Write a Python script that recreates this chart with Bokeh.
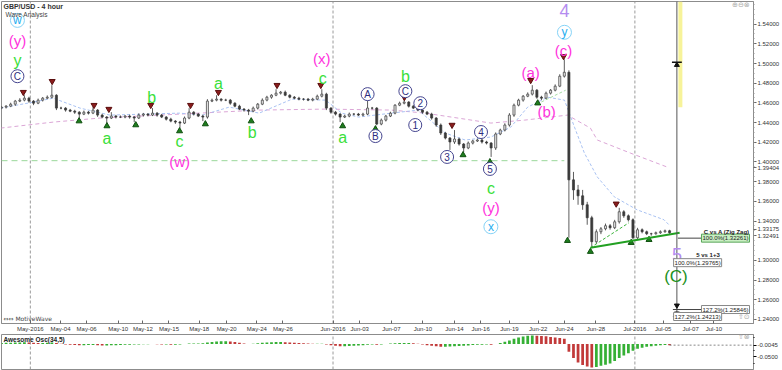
from bokeh.plotting import figure
from bokeh.models import (Label, FixedTicker, Range1d, NumeralTickFormatter,
                          CustomJSTickFormatter)
from bokeh.layouts import column
from bokeh.embed import file_html
from bokeh.resources import INLINE
from bokeh.core.properties import value

FONT = "Liberation Sans"

# ---------------- data (x = trading days since 1 May 2016) ----------------
bar_start = -2.1
bar_step = 1 / 3
first_open = 1.4547

closes = [
    1.4557, 1.4567, 1.4587, 1.4618, 1.4628, 1.4648, 1.4618, 1.4597, 1.4628, 1.4648,
    1.4658, 1.4678, 1.4547, 1.4547, 1.4527, 1.4516, 1.4506, 1.4486, 1.4506, 1.4496,
    1.4527, 1.4476, 1.4456, 1.4446, 1.4466, 1.4456, 1.4456, 1.4466, 1.4456, 1.4446,
    1.4476, 1.4486, 1.4476, 1.4496, 1.4476, 1.4456, 1.4435, 1.4415, 1.4405, 1.4395,
    1.4446, 1.4506, 1.4486, 1.4466, 1.4456, 1.4618, 1.4628, 1.4638, 1.4628, 1.4628,
    1.4597, 1.4567, 1.4537, 1.4527, 1.4516, 1.4547, 1.4587, 1.4628, 1.4658, 1.4678,
    1.4699, 1.4709, 1.4678, 1.4658, 1.4648, 1.4638, 1.4638, 1.4628, 1.4638, 1.4668,
    1.4689, 1.4547, 1.4506, 1.4486, 1.4456, 1.4466, 1.4486, 1.4486, 1.4476, 1.4486,
    1.4547, 1.4547, 1.4385, 1.4425, 1.4466, 1.4496, 1.4577, 1.4597, 1.4608, 1.4567,
    1.4547, 1.4527, 1.4506, 1.4486, 1.4446, 1.4375, 1.4294, 1.4243, 1.4203, 1.4233,
    1.4182, 1.4142, 1.4192, 1.4213, 1.4223, 1.4203, 1.4192, 1.4142, 1.4284, 1.4324,
    1.4375, 1.4476, 1.4577, 1.4628, 1.4668, 1.4689, 1.4729, 1.4658, 1.4648, 1.4699,
    1.4729, 1.4770, 1.4871, 1.4911, 1.3818, 1.3716, 1.3656, 1.3565, 1.3433, 1.3190,
    1.3291, 1.3321, 1.3352, 1.3332, 1.3392, 1.3494, 1.3453, 1.3413, 1.3230, 1.3311,
    1.3291, 1.3271, 1.3271, 1.3281, 1.3291, 1.3301, 1.3281]

wick_up_pips = [
    12, 10, 15, 12, 20, 30, 14, 10, 16, 12,
    18, 102, 10, 14, 10, 12, 14, 10, 16, 12,
    30, 10, 14, 10, 40, 12, 16, 10, 14, 10,
    18, 12, 10, 51, 10, 12, 10, 14, 10, 12,
    16, 41, 10, 12, 14, 20, 16, 40, 10, 14,
    12, 10, 14, 10, 12, 16, 12, 18, 14, 10,
    40, 12, 16, 10, 12, 14, 10, 12, 14, 16,
    50, 14, 10, 12, 10, 14, 16, 10, 12, 14,
    81, 12, 10, 16, 12, 14, 10, 16, 30, 10,
    12, 14, 10, 12, 14, 10, 16, 12, 10, 91,
    14, 10, 16, 12, 14, 10, 12, 10, 16, 14,
    18, 20, 16, 14, 12, 18, 51, 12, 14, 16,
    12, 18, 20, 132, 20, 81, 51, 60, 30, 20,
    24, 18, 22, 18, 20, 40, 16, 14, 14, 20,
    14, 12, 10, 12, 14, 12, 10]

wick_dn_pips = [
    10, 14, 10, 18, 10, 12, 16, 20, 10, 14,
    10, 12, 20, 12, 16, 10, 18, 40, 10, 14,
    10, 18, 12, 51, 10, 14, 10, 12, 16, 41,
    10, 14, 12, 10, 16, 10, 14, 12, 18, 51,
    10, 12, 14, 10, 41, 16, 10, 12, 14, 10,
    16, 12, 10, 16, 40, 10, 14, 10, 12, 16,
    10, 14, 10, 12, 10, 12, 14, 10, 12, 10,
    12, 20, 16, 14, 51, 10, 12, 14, 10, 12,
    10, 14, 12, 12, 14, 10, 12, 10, 12, 14,
    10, 12, 16, 10, 16, 18, 20, 14, 81, 20,
    16, 41, 12, 14, 10, 16, 14, 91, 20, 12,
    14, 16, 18, 12, 16, 10, 14, 16, 20, 10,
    14, 12, 10, 14, 588, 101, 91, 51, 71, 51,
    20, 24, 16, 20, 14, 18, 20, 18, 15, 12,
    16, 14, 20, 10, 12, 10, 12]

ao_values = [
    0.004, 0.005, 0.005, 0.006, 0.006, 0.007, 0.006, 0.005, 0.004, 0.004,
    0.005, 0.006, 0.004, 0.001, -0.002, -0.003, -0.004, -0.005, -0.005, -0.004,
    -0.004, -0.005, -0.006, -0.006, -0.005, -0.005, -0.004, -0.003, -0.003, -0.002,
    -0.002, -0.001, -0.001, 0.000, -0.001, -0.002, -0.002, -0.003, -0.003, -0.002,
    0.000, 0.002, 0.002, 0.002, 0.003, 0.006, 0.008, 0.010, 0.011, 0.011,
    0.010, 0.008, 0.005, 0.002, 0.000, 0.001, 0.003, 0.005, 0.006, 0.007,
    0.008, 0.008, 0.007, 0.006, 0.005, 0.004, 0.003, 0.002, 0.001, 0.001,
    0.001, -0.002, -0.005, -0.007, -0.009, -0.009, -0.008, -0.007, -0.006, -0.005,
    -0.003, -0.002, -0.003, -0.002, 0.000, 0.002, 0.003, 0.004, 0.004, 0.004,
    0.003, 0.001, -0.002, -0.005, -0.007, -0.009, -0.011, -0.011, -0.010, -0.009,
    -0.008, -0.007, -0.006, -0.004, -0.003, -0.003, -0.002, -0.003, 0.000, 0.004,
    0.009, 0.014, 0.020, 0.025, 0.029, 0.032, 0.033, 0.032, 0.031, 0.030,
    0.027, 0.025, 0.023, 0.020, -0.030, -0.055, -0.072, -0.082, -0.088, -0.092,
    -0.090, -0.085, -0.081, -0.076, -0.066, -0.055, -0.045, -0.036, -0.026, -0.019,
    -0.015, -0.011, -0.009, -0.007, -0.005, -0.004, -0.0045]

ma_fast_x = [-2.17, 0.22, 1.67, 3.62, 5.80, 10.87, 12.54, 14.49, 16.67, 19.06,
             21.52, 22.68, 23.91, 26.30, 28.26, 30.22, 31.67, 33.55, 35.0, 36.23,
             37.68, 38.91, 39.64, 40.36, 41.30, 42.54, 44.20, 46.16, 46.59]
ma_fast_y = [1.4547, 1.4608, 1.4648, 1.4547, 1.4476, 1.4496, 1.4476, 1.4557, 1.4496, 1.4638,
             1.4628, 1.4496, 1.4456, 1.4496, 1.4527, 1.4294, 1.4223, 1.4253, 1.4354, 1.4557,
             1.4658, 1.4628, 1.4354, 1.4091, 1.3848, 1.3646, 1.3514, 1.3413, 1.3352]
ma_slow_x = [-2.17, 1.67, 5.07, 12.32, 16.67, 21.52, 26.30, 28.77, 33.55, 36.01,
             39.13, 40.80, 41.30, 43.70, 46.38]
ma_slow_y = [1.4344, 1.4405, 1.4446, 1.4496, 1.4527, 1.4537, 1.4527, 1.4496, 1.4395, 1.4425,
             1.4476, 1.4344, 1.4223, 1.4091, 1.3949]

date_ticks = [0, 2.2, 4.1, 6.4, 8.2, 10.1, 12.3, 14.3, 16.5, 18.4, 22.05, 24.0,
              26.3, 28.6, 30.9, 32.8, 34.9, 37.0, 38.9, 41.2, 44.04, 46.1, 48.1, 49.8]
date_labels = ["May-2016", "May-04", "May-06", "May-10", "May-12", "May-15", "May-18",
               "May-20", "May-24", "May-26", "Jun-2016", "Jun-03", "Jun-07", "Jun-10",
               "Jun-14", "Jun-16", "Jun-19", "Jun-22", "Jun-24", "Jun-28", "Jul-2016",
               "Jul-05", "Jul-07", "Jul-10"]
month_lines = [0, 22.05, 44.04]
# price axis: round levels plus the three live values MotiveWave prints on the axis
price_ticks = [1.24, 1.26, 1.28, 1.30, 1.32491, 1.33175, 1.34, 1.36, 1.38, 1.39404,
               1.40, 1.42, 1.44, 1.46, 1.48, 1.50, 1.52, 1.54]
ao_ticks = [-0.05, -0.0045]

# wave labels
circ_blue_x = [-0.94, 33.55, 38.91]
circ_blue_y = [1.5438, 1.3342, 1.5317]
circ_blue_t = ["w", "x", "y"]
magenta_x = [-0.94, 10.87, 21.23, 33.55, 36.45, 37.61, 38.84]
magenta_y = [1.5235, 1.4000, 1.5053, 1.3534, 1.4911, 1.4516, 1.5134]
magenta_t = ["(y)", "(w)", "(x)", "(y)", "(a)", "(b)", "(c)"]
green_x = [-0.94, 8.84, 5.58, 10.87, 13.70, 16.16, 21.30, 22.75, 27.32, 33.55]
green_y = [1.5033, 1.4658, 1.4243, 1.4203, 1.4800, 1.4304, 1.4851, 1.4253, 1.4871, 1.3727]
green_t = ["y", "b", "a", "c", "a", "b", "c", "a", "b", "c"]
navy_x = [-0.94, 24.57, 25.14, 27.32, 28.41, 28.04, 30.36, 32.83, 33.48]
navy_y = [1.4871, 1.4689, 1.4263, 1.4719, 1.4597, 1.4375, 1.4051, 1.4304, 1.3929]
navy_t = ["C", "A", "B", "C", "2", "1", "3", "4", "5"]
lav_x = [38.91, 47.10]
lav_y = [1.5539, 1.3058]
lav_t = ["4", "5"]
dgreen_x = [47.03]
dgreen_y = [1.2835]
dgreen_t = ["(C)"]

top_mark_x = [-0.51, 1.59, 4.64, 5.72, 8.77, 11.67, 13.70, 17.97, 21.16, 27.25,
              30.72, 36.45, 38.84, 42.68]
top_mark_y = [1.4709, 1.4820, 1.4577, 1.4537, 1.4577, 1.4577, 1.4709, 1.4780, 1.4780, 1.4658,
              1.4375, 1.4830, 1.5073, 1.3575]
bot_mark_x = [3.55, 5.58, 7.68, 10.87, 12.75, 16.09, 22.75, 25.14, 31.52, 33.48,
              36.96, 39.13, 40.80, 43.77, 45.07]
bot_mark_y = [1.4415, 1.4365, 1.4375, 1.4314, 1.4385, 1.4415, 1.4365, 1.4334, 1.4071, 1.4000,
              1.4597, 1.3200, 1.3089, 1.3180, 1.3210]

support_x = [40.80, 47.30]
support_y = [1.3129, 1.3281]
inner_x = [40.80, 43.60]
inner_y = [1.3129, 1.3382]
channel_x = [36.90, 39.0]
channel_y = [1.4587, 1.4729]
level_1400 = 1.4013
level_1400_end = 38.9

proj_x = 47.10
proj_top = 1.5630
proj_bottom = 1.2430
target_zone = [47.21, 47.50, 1.4557, 1.5630]

fib_levels = [1.3226, 1.2977, 1.2501, 1.2430]
fib_line_start = [47.17, 47.10, 46.81, 46.81]
fib_line_end = [49.78, 47.75, 49.78, 47.75]
fib_texts = ["100.0%(1.32261)", "100.0%(1.29765)", "127.2%(1.25846)", "127.2%(1.24213)"]
fib_text_right = [52.39, 50.36, 52.39, 50.36]
fib_fill = ["#c9efc3", "#ffffff", "#ffffff", "#ffffff"]
fib_border = ["#5aa55a", "#888888", "#888888", "#888888"]
ao_last = -0.0045

# ---------------- derived candle geometry ----------------
n = len(closes)
xs = [bar_start + i * bar_step for i in range(n)]
opens = [first_open] + closes[:-1]
highs = [max(o, c) + w / 10000 for o, c, w in zip(opens, closes, wick_up_pips)]
lows = [min(o, c) - w / 10000 for o, c, w in zip(opens, closes, wick_dn_pips)]

X_RANGE = Range1d(-2.101, 52.681)

p = figure(width=782, height=334, x_range=X_RANGE, y_range=Range1d(1.2359, 1.5630),
           output_backend="svg", toolbar_location=None, y_axis_location="right",
           min_border_left=1, min_border_right=25, min_border_top=1, min_border_bottom=0)
p.xgrid.visible = False
p.ygrid.visible = False
p.outline_line_color = "#8c8c8c"
p.border_fill_color = "white"

yax = p.yaxis[0]
yax.ticker = FixedTicker(ticks=price_ticks,
                         minor_ticks=[1.24 + 0.005 * i for i in range(65)])
yax.formatter = NumeralTickFormatter(format="0.00000")
yax.major_label_text_font = FONT
yax.major_label_text_font_size = "6px"
yax.major_label_text_color = "#333333"
yax.major_tick_in = 0
yax.major_tick_out = 3
yax.minor_tick_in = 0
yax.minor_tick_out = 1
yax.major_label_standoff = 1
yax.axis_line_color = "#8c8c8c"
yax.major_tick_line_color = "#666666"
yax.minor_tick_line_color = "#999999"

xax = p.xaxis[0]
xax.ticker = FixedTicker(ticks=date_ticks)
xax.formatter = CustomJSTickFormatter(args=dict(vals=date_ticks, labels=date_labels),
                                      code="const i = vals.indexOf(tick); return i >= 0 ? labels[i] : '';")
xax.major_label_text_font = FONT
xax.major_label_text_font_size = "6px"
xax.major_label_text_color = "#333333"
xax.major_tick_in = 3
xax.major_tick_out = 0
xax.minor_tick_line_color = None
xax.major_label_standoff = 2
xax.axis_line_color = "#8c8c8c"
xax.major_tick_line_color = "#666666"

# month separators
for m in month_lines:
    p.segment(x0=[m], y0=[1.2359], x1=[m], y1=[1.5630], line_color="#9a9a9a",
              line_dash="3 2", line_width=1)

# 1.40 dashed level
p.segment(x0=[-2.101], y0=[level_1400], x1=[level_1400_end], y1=[level_1400],
          line_color="#9ad89a", line_dash="6 4", line_width=1)

# moving averages
p.line(ma_slow_x, ma_slow_y, line_color="#dba6d6", line_dash="4 3", line_width=1)
p.line(ma_fast_x, ma_fast_y, line_color="#a9c2f2", line_dash="3 2", line_width=1)
p.line(channel_x, channel_y, line_color="#a6dca6", line_dash="3 2", line_width=1)

# candles
p.segment(x0=xs, y0=lows, x1=xs, y1=highs, line_color="#333333", line_width=0.8)
up_x = [x for x, o, c in zip(xs, opens, closes) if c >= o]
up_t = [c for o, c in zip(opens, closes) if c >= o]
up_b = [o for o, c in zip(opens, closes) if c >= o]
dn_x = [x for x, o, c in zip(xs, opens, closes) if c < o]
dn_t = [o for o, c in zip(opens, closes) if c < o]
dn_b = [c for o, c in zip(opens, closes) if c < o]
p.vbar(x=up_x, top=up_t, bottom=up_b, width=0.15, fill_color="#e6e6e6", line_color="#3a3a3a", line_width=0.7)
p.vbar(x=dn_x, top=dn_t, bottom=dn_b, width=0.15, fill_color="#3a3a3a", line_color="#3a3a3a", line_width=0.7)

# swing markers
p.scatter(top_mark_x, top_mark_y, marker="inverted_triangle", size=6, fill_color="#8a1c1c", line_color="#5a0e0e")
p.scatter(bot_mark_x, bot_mark_y, marker="triangle", size=6, fill_color="#1e7d1e", line_color="#0f4f0f")

# triangle lines
p.line(inner_x, inner_y, line_color="#3cb43c", line_dash="3 2", line_width=1)
p.line(support_x, support_y, line_color="#22a022", line_width=2)

# projection
p.quad(left=[target_zone[0]], right=[target_zone[1]], bottom=[target_zone[2]], top=[target_zone[3]],
       fill_color="#f7f39a", line_color=None)
p.segment(x0=[proj_x], y0=[proj_bottom], x1=[proj_x], y1=[proj_top], line_color="#555555", line_width=1)
p.segment(x0=[46.74], y0=[1.5013], x1=[47.46], y1=[1.5013], line_color="#111111", line_width=1.5)
p.scatter([proj_x], [1.4985], marker="triangle", size=5, color="#111111")
p.scatter([proj_x, proj_x], [1.2542, 1.2461], marker="inverted_triangle", size=5, color="#111111")
p.segment(x0=fib_line_start, y0=fib_levels, x1=fib_line_end, y1=fib_levels, line_color="#444444", line_width=1)

for t, yv, xr, fc, bc in zip(fib_texts, fib_levels, fib_text_right, fib_fill, fib_border):
    p.add_layout(Label(x=xr, y=yv, text=t, text_align="right", text_baseline="middle",
                       text_font=FONT, text_font_size="6px", text_color="#222222",
                       background_fill_color=fc, border_line_color=bc, padding=1))
p.add_layout(Label(x=52.39, y=1.3291, text="C vs A (Zig Zag)", text_align="right",
                   text_baseline="middle", text_font=FONT, text_font_size="6px",
                   text_font_style="bold", text_color="#222222"))
p.add_layout(Label(x=50.22, y=1.3058, text="5 vs 1+3", text_align="right",
                   text_baseline="middle", text_font=FONT, text_font_size="6px",
                   text_font_style="bold", text_color="#222222"))

# wave labels
p.scatter(circ_blue_x, circ_blue_y, marker="circle", size=14, fill_color="white", line_color="#86d3f7", line_width=1)
p.text(circ_blue_x, circ_blue_y, text=circ_blue_t, text_align="center", text_baseline="middle",
       text_font=value(FONT), text_font_size="12px", text_color="#27aef0")
p.scatter(navy_x, navy_y, marker="circle", size=13, fill_color="white", line_color="#45458f", line_width=1)
p.text(navy_x, navy_y, text=navy_t, text_align="center", text_baseline="middle",
       text_font=value(FONT), text_font_size="10px", text_color="#2d2d80")
p.text(magenta_x, magenta_y, text=magenta_t, text_align="center", text_baseline="middle",
       text_font=value(FONT), text_font_size="15px", text_color="#ff33dd")
p.text(green_x, green_y, text=green_t, text_align="center", text_baseline="middle",
       text_font=value(FONT), text_font_size="16px", text_color="#3ae03a")
p.text(lav_x, lav_y, text=lav_t, text_align="center", text_baseline="middle",
       text_font=value(FONT), text_font_size="18px", text_color="#b48cf0")
p.text(dgreen_x, dgreen_y, text=dgreen_t, text_align="center", text_baseline="middle",
       text_font=value(FONT), text_font_size="17px", text_color="#1b911b")

# titles and small texts
p.add_layout(Label(x=-1.96, y=1.5580, text="GBP/USD - 4 hour", text_baseline="middle",
                   text_font=FONT, text_font_size="7px", text_font_style="bold", text_color="#333333"))
p.add_layout(Label(x=-1.81, y=1.5499, text="Wave Analysis", text_baseline="middle",
                   text_font=FONT, text_font_size="6.5px", text_color="#444444"))
p.add_layout(Label(x=-1.96, y=1.2410, text="⇔⇔ MotiveWave", text_baseline="middle",
                   text_font="DejaVu Sans", text_font_size="6px", text_color="#444444"))
p.add_layout(Label(x=52.4, y=1.5595, text="⊕⊖⊗", text_align="right", text_baseline="middle",
                   text_font="DejaVu Sans", text_font_size="7px", text_color="#aaaaaa"))
p.add_layout(Label(x=52.4, y=1.2420, text="⇧⊙", text_align="right", text_baseline="middle",
                   text_font="DejaVu Sans", text_font_size="7px", text_color="#aaaaaa"))

# ---------------- Awesome oscillator ----------------
q = figure(width=782, height=36, x_range=X_RANGE, y_range=Range1d(-0.0995, 0.037),
           output_backend="svg", toolbar_location=None, y_axis_location="right",
           x_axis_location=None, min_border_left=1, min_border_right=25,
           min_border_top=0, min_border_bottom=1)
q.xgrid.visible = False
q.ygrid.visible = False
q.outline_line_color = "#8c8c8c"
qy = q.yaxis[0]
qy.ticker = FixedTicker(ticks=ao_ticks, minor_ticks=[-0.075, -0.025, 0.025])
qy.formatter = NumeralTickFormatter(format="0.0000")
qy.major_label_text_font = FONT
qy.major_label_text_font_size = "6px"
qy.major_label_text_color = "#333333"
qy.major_tick_in = 0
qy.major_tick_out = 3
qy.minor_tick_in = 0
qy.minor_tick_out = 1
qy.major_label_standoff = 1
qy.axis_line_color = "#8c8c8c"

for m in month_lines:
    q.segment(x0=[m], y0=[-0.0995], x1=[m], y1=[0.037], line_color="#9a9a9a",
              line_dash="3 2", line_width=1)

ao_colors = ["#35b035" if i == 0 or v >= ao_values[i - 1] else "#c23a3a"
             for i, v in enumerate(ao_values)]
q.vbar(x=xs, top=ao_values, bottom=[0] * n, width=0.2, fill_color=ao_colors, line_color=None)
q.segment(x0=[xs[-1]], y0=[ao_last], x1=[52.681], y1=[ao_last], line_color="#888888",
          line_dash="2 2", line_width=1)
q.add_layout(Label(x=-1.96, y=0.0176, text="Awesome Osc(34,5)", text_baseline="middle",
                   text_font=FONT, text_font_size="6.5px", text_font_style="bold", text_color="#222222"))
q.add_layout(Label(x=52.4, y=0.029, text="⇧⊗", text_align="right", text_baseline="middle",
                   text_font="DejaVu Sans", text_font_size="7px", text_color="#aaaaaa"))

layout = column(p, q, spacing=0)
open("out.html", "w").write(file_html(layout, INLINE))
